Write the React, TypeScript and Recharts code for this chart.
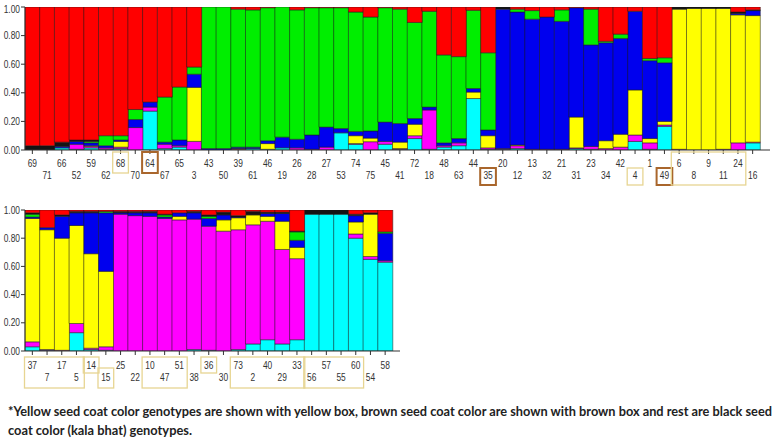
import { Bar, BarChart, XAxis, YAxis } from 'recharts'

// genotype order as plotted (left to right)
const topGenotypes = ['69', '71', '66', '52', '59', '62', '68', '70', '64', '67', '65', '3', '43', '50', '39', '61', '46', '19', '26', '28', '27', '53', '74', '75', '45', '41', '72', '18', '48', '63', '44', '35', '20', '12', '13', '32', '21', '31', '23', '34', '42', '4', '1', '49', '6', '8', '9', '11', '24', '16']
const bottomGenotypes = ['37', '7', '17', '5', '14', '15', '25', '22', '10', '47', '51', '38', '36', '30', '73', '2', '40', '29', '33', '56', '57', '55', '60', '54', '58']

// membership coefficients per cluster (stacked bottom -> top)
const topCyan = [0, 0, 0.015, 0.005, 0.015, 0.005, 0.01, 0, 0.272, 0.01, 0.02, 0, 0, 0, 0, 0.01, 0.005, 0.015, 0, 0, 0, 0.12, 0.04, 0, 0.04, 0.005, 0.08, 0.005, 0.02, 0.03, 0.36, 0.005, 0.005, 0.01, 0, 0, 0, 0.01, 0.005, 0, 0, 0.06, 0.005, 0.165, 0, 0, 0, 0, 0, 0.05]
const topMagenta = [0, 0, 0, 0.035, 0.01, 0.01, 0.01, 0.157, 0.028, 0.03, 0.01, 0.06, 0, 0, 0.005, 0, 0, 0, 0.015, 0.005, 0.02, 0, 0.005, 0.058, 0.02, 0.005, 0.02, 0.275, 0.01, 0.02, 0, 0.01, 0.005, 0.02, 0.005, 0.005, 0.005, 0.005, 0.02, 0.01, 0.02, 0.045, 0.045, 0.01, 0.005, 0, 0, 0.005, 0.05, 0.005]
const topYellow = [0, 0, 0, 0, 0.005, 0, 0.04, 0, 0, 0, 0, 0.378, 0, 0, 0.005, 0, 0.04, 0, 0, 0, 0, 0, 0.055, 0.025, 0, 0.045, 0.08, 0, 0, 0, 0.045, 0.085, 0, 0.005, 0, 0, 0, 0.215, 0, 0.055, 0.09, 0.315, 0.03, 0.025, 0.98, 0.99, 0.99, 0.985, 0.895, 0.885]
const topBlue = [0, 0, 0.01, 0.02, 0.02, 0.015, 0.01, 0.056, 0.035, 0.015, 0.04, 0.092, 0.01, 0.01, 0.01, 0.01, 0.02, 0.075, 0.06, 0.1, 0.14, 0.03, 0.03, 0.05, 0.135, 0.13, 0.04, 0.02, 0.02, 0.03, 0.025, 0.04, 0.975, 0.93, 0.91, 0.925, 0.895, 0.765, 0.71, 0.685, 0.67, 0.55, 0.545, 0.41, 0, 0, 0, 0, 0.01, 0.035]
const topGreen = [0, 0, 0, 0, 0.01, 0.07, 0.03, 0.07, 0, 0.315, 0.37, 0.05, 0.99, 0.99, 0.965, 0.96, 0.93, 0.91, 0.905, 0.89, 0.835, 0.845, 0.835, 0.797, 0.8, 0.8, 0.672, 0.67, 0.615, 0.573, 0.547, 0.54, 0, 0.02, 0.06, 0, 0.08, 0, 0.25, 0.01, 0.03, 0, 0.015, 0.035, 0, 0, 0, 0, 0, 0]
const topDark = [0.03, 0.03, 0.03, 0.01, 0.01, 0, 0, 0, 0, 0, 0, 0, 0, 0, 0, 0, 0, 0, 0, 0, 0, 0, 0, 0, 0, 0, 0, 0, 0, 0, 0, 0, 0.015, 0, 0, 0, 0, 0, 0, 0, 0, 0, 0, 0, 0.015, 0.01, 0.01, 0.01, 0.01, 0.005]
const topRed = [0.97, 0.97, 0.945, 0.93, 0.93, 0.9, 0.9, 0.717, 0.665, 0.63, 0.56, 0.42, 0, 0, 0.015, 0.02, 0.005, 0, 0.02, 0.005, 0.005, 0.005, 0.035, 0.07, 0.005, 0.015, 0.108, 0.03, 0.335, 0.347, 0.023, 0.32, 0, 0.015, 0.025, 0.07, 0.02, 0.005, 0.015, 0.24, 0.19, 0.03, 0.36, 0.355, 0, 0, 0, 0, 0.035, 0.02]

const bottomCyan = [0.03, 0.005, 0, 0.13, 0.01, 0.005, 0, 0, 0, 0, 0, 0.01, 0.005, 0, 0.01, 0.05, 0.08, 0.05, 0.08, 0.97, 0.97, 0.97, 0.8, 0.65, 0.63]
const bottomMagenta = [0.035, 0.005, 0.005, 0.065, 0.01, 0.025, 0.97, 0.96, 0.955, 0.94, 0.93, 0.925, 0.88, 0.85, 0.85, 0.845, 0.84, 0.67, 0.575, 0, 0, 0, 0.03, 0.02, 0.01]
const bottomYellow = [0.875, 0.85, 0.795, 0.695, 0.67, 0.535, 0, 0, 0, 0, 0.025, 0, 0, 0.08, 0.085, 0.07, 0.035, 0.2, 0.08, 0, 0, 0, 0.085, 0.3, 0]
const bottomBlue = [0.01, 0.015, 0.155, 0.09, 0.29, 0.415, 0.01, 0.02, 0.025, 0.01, 0.025, 0.045, 0.055, 0.035, 0.005, 0, 0.02, 0.055, 0.05, 0, 0, 0, 0.045, 0, 0.195]
const bottomGreen = [0.02, 0, 0, 0, 0, 0.01, 0, 0, 0, 0.015, 0, 0, 0.015, 0, 0, 0, 0, 0, 0.06, 0, 0, 0, 0, 0, 0.01]
const bottomDark = [0.01, 0, 0.01, 0.01, 0.01, 0, 0.01, 0.01, 0.01, 0.005, 0, 0.01, 0.01, 0.02, 0.01, 0.025, 0.01, 0.01, 0.005, 0.03, 0.03, 0.03, 0.01, 0.01, 0]
const bottomRed = [0.02, 0.125, 0.035, 0.01, 0.01, 0.01, 0.01, 0.01, 0.01, 0.03, 0.02, 0.01, 0.035, 0.015, 0.04, 0.01, 0.015, 0.015, 0.15, 0, 0, 0, 0.03, 0.02, 0.155]

const yTicks = [0, 0.2, 0.4, 0.6, 0.8, 1]

// labels framed by seed coat colour (first and last genotype of each frame)
const topYellowBoxes = [['68'], ['4'], ['6', '24']]
const topBrownBoxes = [['64'], ['35'], ['49']]
const bottomYellowBoxes = [['37', '5'], ['14'], ['15'], ['10', '51'], ['36'], ['73', '33'], ['56', '60']]

const CLUSTERS = [
  { key: 'cyan', color: '#00ffff' },
  { key: 'magenta', color: '#ff00ff' },
  { key: 'yellow', color: '#ffff00' },
  { key: 'blue', color: '#0000ee' },
  { key: 'green', color: '#00ee00' },
  { key: 'dark', color: '#141414' },
  { key: 'red', color: '#ff0000' },
]

const FONT = '"Liberation Sans", Arial, sans-serif'
const NARROW = 0.8
const STEP = 14.7
const YELLOW_BOX = '#e7d592'
const BROWN_BOX = '#a9662c'

const build = (names: string[], cols: number[][]) =>
  names.map((g, i) => ({
    g,
    cyan: cols[0][i],
    magenta: cols[1][i],
    yellow: cols[2][i],
    blue: cols[3][i],
    green: cols[4][i],
    dark: cols[5][i],
    red: cols[6][i],
  }))

const topData = build(topGenotypes, [topCyan, topMagenta, topYellow, topBlue, topGreen, topDark, topRed])
const bottomData = build(bottomGenotypes, [bottomCyan, bottomMagenta, bottomYellow, bottomBlue, bottomGreen, bottomDark, bottomRed])

type BoxDef = { from: number; to: number; color: string; width: number }

const toBoxes = (names: string[], groups: string[][], color: string, width: number): BoxDef[] =>
  groups.map((gr) => ({ from: names.indexOf(gr[0]), to: names.indexOf(gr[gr.length - 1]), color, width }))

const topBoxes = [...toBoxes(topGenotypes, topYellowBoxes, YELLOW_BOX, 1.3), ...toBoxes(topGenotypes, topBrownBoxes, BROWN_BOX, 2)]
const bottomBoxes = toBoxes(bottomGenotypes, bottomYellowBoxes, YELLOW_BOX, 1.3)

function NarrowText({ x, y, anchor, children }: any) {
  return (
    <text transform={`translate(${x},${y}) scale(${NARROW},1)`} textAnchor={anchor} fontSize={10.5} fontFamily={FONT} fill="#333">
      {children}
    </text>
  )
}

function GenoTick(props: any) {
  const { x, payload, axisY, rows, boxes, index } = props
  const i = index ?? payload.index
  const row = i % 2
  const frames = boxes
    .filter((b: BoxDef) => b.from === i)
    .map((b: BoxDef, k: number) => {
      const span = b.to - b.from
      const both = span > 0
      const y1 = both || row === 0 ? axisY + rows[2] : axisY + rows[4]
      const y2 = both || row === 1 ? axisY + rows[5] : axisY + rows[3]
      return (
        <rect key={k} x={x - STEP / 2 - 0.5} y={y1} width={STEP * (span + 1) + 1} height={y2 - y1} fill="none" stroke={b.color} strokeWidth={b.width} />
      )
    })
  return (
    <g>
      {frames}
      <NarrowText x={x} y={axisY + rows[row]} anchor="middle">
        {payload.value}
      </NarrowText>
    </g>
  )
}

function QTick({ x, y, payload }: any) {
  return (
    <NarrowText x={x} y={y + 3.5} anchor="end">
      {Number(payload.value).toFixed(2)}
    </NarrowText>
  )
}

function Structure({ data, width, height, top, right, axisH, padRight, boxes, rows }: any) {
  const axisY = height - axisH
  return (
    <BarChart width={width} height={height} data={data} margin={{ top, right, bottom: 0, left: 0 }} barCategoryGap={0}>
      <YAxis width={25} domain={[0, 1]} ticks={yTicks} allowDataOverflow tickSize={4} tickMargin={1} tick={<QTick />} stroke="#333" />
      <XAxis
        dataKey="g"
        interval={0}
        height={axisH}
        padding={{ left: 0, right: padRight }}
        tickSize={4}
        stroke="#333"
        tick={(p: any) => <GenoTick {...p} axisY={axisY} rows={rows} boxes={boxes} />}
      />
      {CLUSTERS.map((c) => (
        <Bar key={c.key} dataKey={c.key} stackId="q" fill={c.color} stroke="#1a1a1a" strokeWidth={0.5} isAnimationActive={false} />
      ))}
    </BarChart>
  )
}

export default function App() {
  return (
    <div style={{ position: 'absolute', left: 0, top: 0, width: 778, height: 442, background: '#fff' }}>
      <div style={{ position: 'absolute', left: 0, top: 0 }}>
        <Structure data={topData} width={778} height={190} top={7} right={8} axisH={40} padRight={10} boxes={topBoxes} rows={[16.5, 28.5, 2, 23, 18, 35]} />
      </div>
      <div style={{ position: 'absolute', left: 0, top: 190 }}>
        <Structure data={bottomData} width={400} height={210} top={20} right={0} axisH={49} padRight={7.5} boxes={bottomBoxes} rows={[17.5, 29.5, 6, 22, 17, 37]} />
      </div>
      <svg style={{ position: 'absolute', left: 0, top: 396 }} width={778} height={46}>
        <text x={8} y={20} fontSize={12.6} fontWeight={700} fontFamily="Lato, 'Open Sans', sans-serif" fill="#222" textLength={764} lengthAdjust="spacingAndGlyphs">
          *Yellow seed coat color genotypes are shown with yellow box, brown seed coat color are shown with brown box and rest are black seed
        </text>
        <text x={8} y={39} fontSize={12.6} fontWeight={700} fontFamily="Lato, 'Open Sans', sans-serif" fill="#222" textLength={184} lengthAdjust="spacingAndGlyphs">
          coat color (kala bhat) genotypes.
        </text>
      </svg>
    </div>
  )
}
